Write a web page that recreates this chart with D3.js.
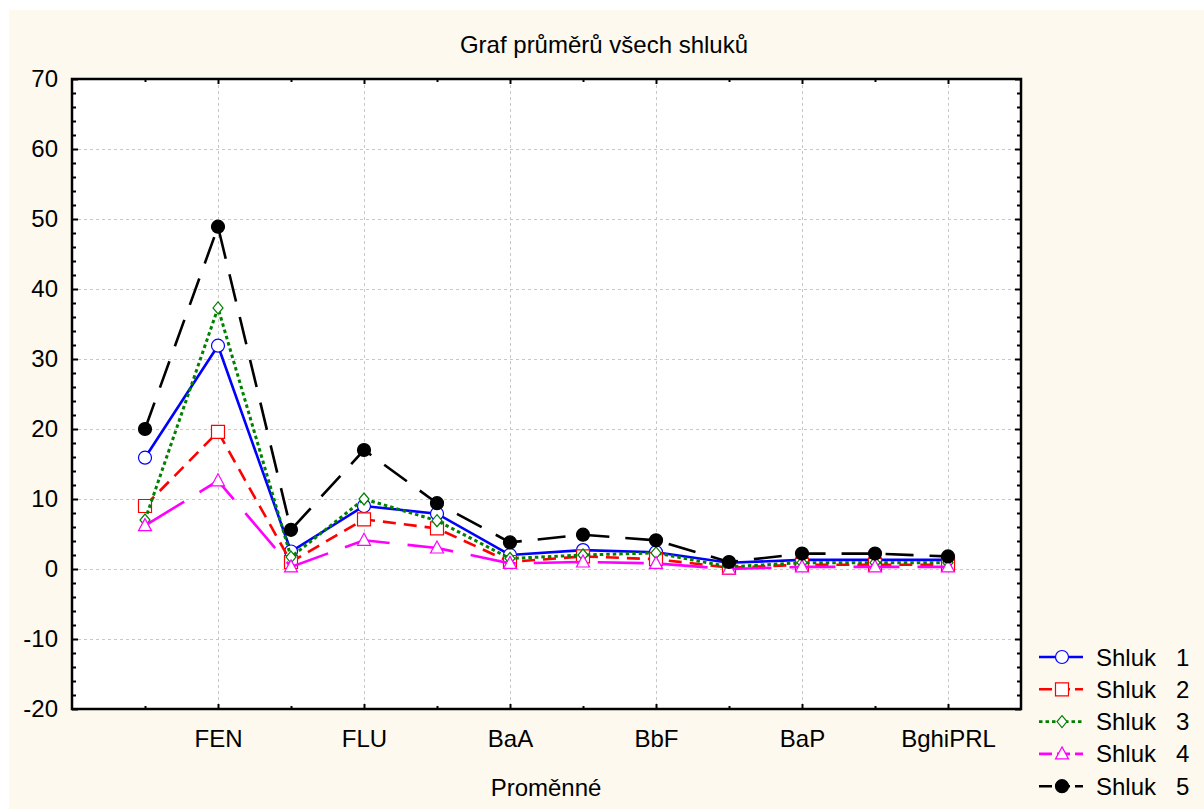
<!DOCTYPE html>
<html>
<head>
<meta charset="utf-8">
<script src="https://cdn.jsdelivr.net/npm/d3@7"></script>
<style>
  html, body { margin: 0; padding: 0; background: #ffffff; }
  svg { display: block; font-family: "Liberation Sans", Arial, sans-serif; }
</style>
</head>
<body>
<svg id="chart" width="1204" height="809"></svg>
<script>
// Variables on the x axis (every other one carries a label)
const tickLabels = ["", "FEN", "", "FLU", "", "BaA", "", "BbF", "", "BaP", "", "BghiPRL"];

// Cluster means per variable
const shluk1 = [15.9, 31.9, 2.5, 9.0, 7.9, 2.0, 2.7, 2.4, 0.9, 1.3, 1.3, 1.3];
const shluk2 = [9.0, 19.6, 1.0, 7.1, 5.8, 1.0, 1.8, 1.4, 0.2, 0.6, 0.6, 0.6];
const shluk3 = [7.0, 37.3, 1.7, 10.0, 6.9, 1.5, 2.0, 2.3, 0.3, 0.9, 0.9, 0.9];
const shluk4 = [6.2, 12.6, 0.3, 4.1, 3.0, 0.8, 1.0, 0.8, 0.0, 0.3, 0.3, 0.3];
const shluk5 = [20.0, 48.9, 5.6, 17.0, 9.4, 3.8, 4.9, 4.1, 1.0, 2.2, 2.2, 1.8];

const seriesNames = ["Shluk   1", "Shluk   2", "Shluk   3", "Shluk   4", "Shluk   5"];
const yTicks = [-20, -10, 0, 10, 20, 30, 40, 50, 60, 70];

const series = [
  { name: seriesNames[0], values: shluk1, color: "#0000ff", dash: null, marker: "circle", fill: "#ffffff" },
  { name: seriesNames[1], values: shluk2, color: "#ff0000", dash: "13,8", marker: "square", fill: "#ffffff" },
  { name: seriesNames[2], values: shluk3, color: "#008000", dash: "3.5,3", marker: "diamond", fill: "#ffffff" },
  { name: seriesNames[3], values: shluk4, color: "#ff00ff", dash: "46,18", marker: "triangle", fill: "#ffffff" },
  { name: seriesNames[4], values: shluk5, color: "#000000", dash: "28,16", marker: "dot", fill: "#000000" }
];

const FONT = 24;
const svg = d3.select("#chart");
const W = 1204, H = 809;
const plot = { left: 72, top: 79, right: 1021, bottom: 709 };

// Page background
svg.append("rect").attr("x", 0).attr("y", 0).attr("width", W).attr("height", H).attr("fill", "#ffffff");
svg.append("rect").attr("x", 9).attr("y", 10).attr("width", W - 9).attr("height", H - 10).attr("fill", "#fdf9ee");

// Plot area
svg.append("rect")
  .attr("x", plot.left).attr("y", plot.top)
  .attr("width", plot.right - plot.left).attr("height", plot.bottom - plot.top)
  .attr("fill", "#ffffff");

const x = d3.scalePoint().domain(d3.range(tickLabels.length)).range([plot.left, plot.right]).padding(1);
const y = d3.scaleLinear().domain([-20, 70]).range([plot.bottom, plot.top]);

// Grid
const grid = svg.append("g").attr("stroke", "#c8c8c8").attr("stroke-width", 1).attr("stroke-dasharray", "3,3");
yTicks.filter(v => v > -20 && v < 70).forEach(v => {
  grid.append("line").attr("x1", plot.left).attr("x2", plot.right)
    .attr("y1", Math.round(y(v)) + 0.5).attr("y2", Math.round(y(v)) + 0.5);
});
x.domain().filter(i => tickLabels[i] !== "").forEach(i => {
  grid.append("line").attr("y1", plot.top).attr("y2", plot.bottom)
    .attr("x1", Math.round(x(i)) + 0.5).attr("x2", Math.round(x(i)) + 0.5);
});

// Axes: ticks point inward on all four sides
const minorY = d3.range(-20, 70.001, 2).filter(v => v % 10 !== 0);
const majorIdx = x.domain().filter(i => tickLabels[i] !== "");
const minorIdx = x.domain().filter(i => tickLabels[i] === "");

function styleAxis(g) {
  g.select(".domain").remove();
  g.selectAll(".tick line").attr("stroke", "#000").attr("stroke-width", 2);
}
function styleText(g) {
  g.selectAll("text").attr("font-size", FONT).attr("fill", "#000")
    .attr("font-family", "Liberation Sans, Arial, sans-serif");
}

// left
svg.append("g").attr("transform", `translate(${plot.left},0)`)
  .call(d3.axisLeft(y).tickValues(yTicks).tickSize(-6).tickPadding(14).tickFormat(d => String(d)))
  .call(styleAxis).call(styleText);
svg.append("g").attr("transform", `translate(${plot.left},0)`)
  .call(d3.axisLeft(y).tickValues(minorY).tickSize(-4).tickFormat(""))
  .call(styleAxis);
// right
svg.append("g").attr("transform", `translate(${plot.right},0)`)
  .call(d3.axisRight(y).tickValues(yTicks).tickSize(-6).tickFormat(""))
  .call(styleAxis);
svg.append("g").attr("transform", `translate(${plot.right},0)`)
  .call(d3.axisRight(y).tickValues(minorY).tickSize(-4).tickFormat(""))
  .call(styleAxis);
// bottom
svg.append("g").attr("transform", `translate(0,${plot.bottom})`)
  .call(d3.axisBottom(x).tickValues(majorIdx).tickSize(-5).tickPadding(21).tickFormat(i => tickLabels[i]))
  .call(styleAxis).call(styleText);
svg.append("g").attr("transform", `translate(0,${plot.bottom})`)
  .call(d3.axisBottom(x).tickValues(minorIdx).tickSize(-3).tickFormat(""))
  .call(styleAxis);
// top
svg.append("g").attr("transform", `translate(0,${plot.top})`)
  .call(d3.axisTop(x).tickValues(majorIdx).tickSize(-5).tickFormat(""))
  .call(styleAxis);
svg.append("g").attr("transform", `translate(0,${plot.top})`)
  .call(d3.axisTop(x).tickValues(minorIdx).tickSize(-3).tickFormat(""))
  .call(styleAxis);

// Frame
svg.append("rect")
  .attr("x", plot.left).attr("y", plot.top)
  .attr("width", plot.right - plot.left).attr("height", plot.bottom - plot.top)
  .attr("fill", "none").attr("stroke", "#000").attr("stroke-width", 2.5);

// Marker shapes
function markerPath(kind) {
  switch (kind) {
    case "circle": return d3.symbol(d3.symbolCircle, Math.PI * 6.5 * 6.5)();
    case "dot": return d3.symbol(d3.symbolCircle, Math.PI * 6.5 * 6.5)();
    case "square": return "M-6.5,-6.5H6.5V6.5H-6.5Z";
    case "diamond": return "M0,-6L5,0L0,6L-5,0Z";
    case "triangle": return "M0,-7L6.5,5L-6.5,5Z";
  }
}

const line = d3.line().x((d, i) => x(i)).y(d => y(d));

series.forEach(s => {
  const g = svg.append("g");
  g.append("path")
    .attr("d", line(s.values))
    .attr("fill", "none")
    .attr("stroke", s.color)
    .attr("stroke-width", s.marker === "diamond" ? 3 : 2.6)
    .attr("stroke-dasharray", s.dash);
  g.selectAll("path.m").data(s.values).join("path")
    .attr("class", "m")
    .attr("d", markerPath(s.marker))
    .attr("transform", (d, i) => `translate(${x(i)},${y(d)})`)
    .attr("fill", s.fill)
    .attr("stroke", s.color)
    .attr("stroke-width", 1.2);
});

// Title and axis title
svg.append("text").attr("x", 604).attr("y", 53).attr("text-anchor", "middle")
  .attr("font-size", FONT).attr("fill", "#000").text("Graf průměrů všech shluků");
svg.append("text").attr("x", 546).attr("y", 796).attr("text-anchor", "middle")
  .attr("font-size", FONT).attr("fill", "#000").text("Proměnné");

// Legend
const legend = svg.append("g");
series.forEach((s, k) => {
  const cy = 657 + k * 32.3;
  const row = legend.append("g");
  row.append("line").attr("x1", 1039).attr("x2", 1083).attr("y1", cy).attr("y2", cy)
    .attr("stroke", s.color).attr("stroke-width", 2.6)
    .attr("stroke-dasharray", s.dash ? (s.marker === "diamond" ? "3.5,3" : "13,5") : null);
  row.append("path").attr("d", markerPath(s.marker))
    .attr("transform", `translate(1062,${cy})`)
    .attr("fill", s.fill).attr("stroke", s.color).attr("stroke-width", 1.2);
  const parts = s.name.split(/\s+/);
  const t = row.append("text").attr("y", cy + 8.5).attr("font-size", FONT).attr("fill", "#000");
  t.append("tspan").attr("x", 1096).text(parts[0]);
  t.append("tspan").attr("x", 1176).text(parts[1]);
});
</script>
</body>
</html>
